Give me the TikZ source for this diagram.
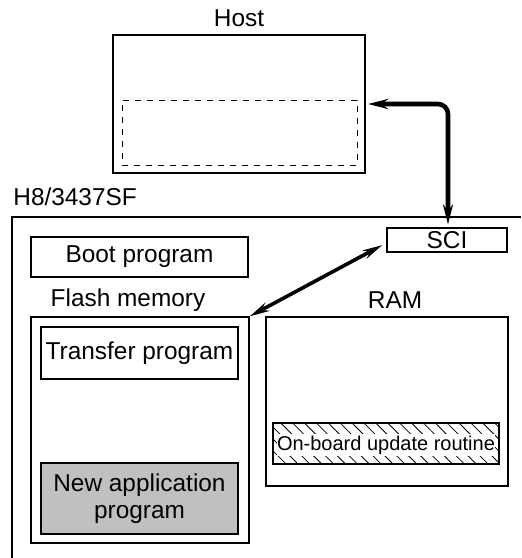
\documentclass[tikz,border=0pt]{standalone}
\usepackage{fontspec}
\setmainfont{Liberation Sans}
\usetikzlibrary{arrows.meta,patterns.meta}
\begin{document}
\begin{tikzpicture}[x=0.5pt,y=-0.5pt,
  box/.style={draw,line width=0.6pt,inner sep=0pt,align=center,font=\fontsize{12.2}{13.5}\selectfont},
  lbl/.style={inner sep=0pt,font=\fontsize{12.2}{13.5}\selectfont},
  tip/.style={Stealth[length=10pt,width=5pt]},
  bigarrow/.style={line width=2.3pt,{Stealth[length=10pt,width=5pt]}-{Stealth[length=10pt,width=5pt]}},
  midarrow/.style={line width=1.8pt,{Stealth[length=10pt,width=4.5pt]}-{Stealth[length=10pt,width=4.5pt]}}]
\useasboundingbox (0,0) rectangle (521,558);
% outer chip outline (open right and bottom)
\draw[line width=0.8pt] (521,217) -- (12,217) -- (12,558);
\node[lbl,anchor=west] (chip) at (13,197) {H8/3437SF};
% host
\node[lbl] (hostlbl) at (239,18) {Host};
\node[box,line width=1pt,minimum width=126pt,minimum height=69pt] (host) at (239,104) {};
\node[draw,dashed,line width=0.5pt,minimum width=117.5pt,minimum height=32.5pt,inner sep=0pt] (hostin) at (239.5,132.5) {};
% SCI
\node[box,minimum width=60pt,minimum height=12pt] (sci) at (447,240) {SCI};
% boot
\node[box,minimum width=108.5pt,minimum height=20pt] (boot) at (139.5,257) {Boot program};
% flash
\node[lbl] (flashlbl) at (128,300) {Flash memory};
\node[box,minimum width=109pt,minimum height=113pt] (flash) at (140,430) {};
\node[box,minimum width=98.5pt,minimum height=26pt] (transfer) at (139.5,353) {Transfer program};
\node[box,fill={rgb,255:red,192;green,192;blue,192},minimum width=98.5pt,minimum height=35.5pt] (newapp) at (139.5,498.5) {New application\\program};
% RAM
\node[lbl] (ramlbl) at (395,300) {RAM};
\node[box,minimum width=121pt,minimum height=84.5pt] (ram) at (387,401.5) {};
\node[box,pattern={Lines[angle=-45,distance=4.2pt,line width=0.4pt]},minimum width=113pt,minimum height=20.5pt] (onboard) at (386,443.5) {};
\node[fill=white,inner xsep=0pt,inner ysep=0.8pt,font=\fontsize{10}{12}\selectfont] (onboardtxt) at (386,445) {On-board update routine};
% arrows
\draw[bigarrow,rounded corners=5pt] ([xshift=1pt]host.east) -| ([xshift=0.5pt,yshift=1.5pt]sci.north);
\draw[midarrow] ([xshift=-2pt,yshift=-2.5pt]sci.west) -- ([xshift=0pt,yshift=0pt]flash.north east);
\end{tikzpicture}
\end{document}
